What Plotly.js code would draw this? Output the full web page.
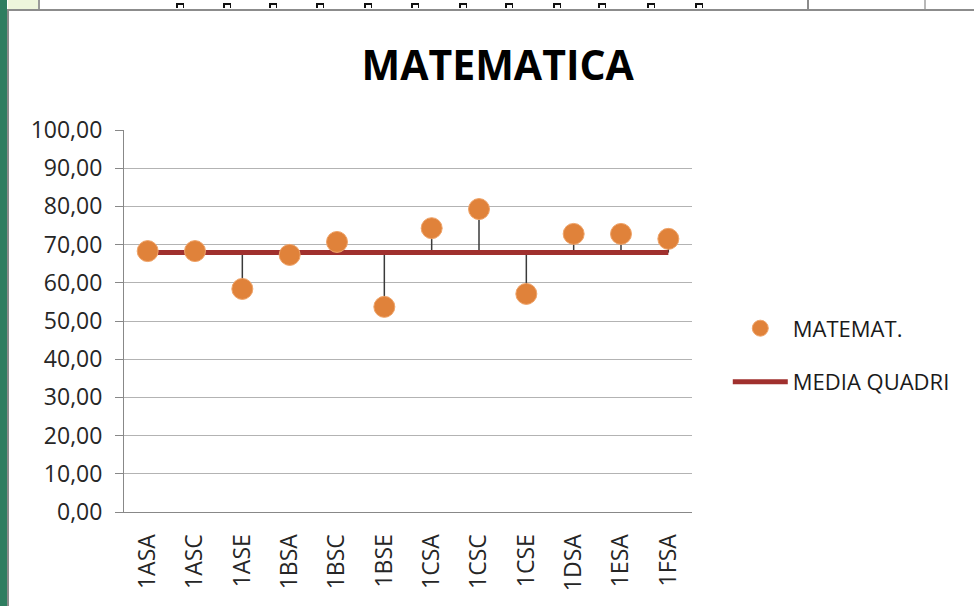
<!DOCTYPE html>
<html>
<head>
<meta charset="utf-8">
<script src="https://cdn.plot.ly/plotly-3.0.1.min.js"></script>
<style>
  html, body { margin: 0; padding: 0; background: #fff; }
  #wrap { position: relative; width: 974px; height: 606px; overflow: hidden; }
  #chart { position: absolute; left: 0; top: 0; width: 974px; height: 606px; }
  .deco { position: absolute; pointer-events: none; }
  .glyph { position: absolute; top: 3px; width: 8px; height: 5px; box-sizing: border-box;
           border-top: 2px solid #111; border-left: 2px solid #111; border-right: 1px solid #111; }
</style>
</head>
<body>
<div id="wrap">
  <div id="chart"></div>
  <!-- spreadsheet chrome around the chart -->
  <div class="deco" style="left:0;top:0;width:974px;height:9px;background:#fff;overflow:hidden;" id="strip"></div>
  <div class="deco" style="left:8px;top:0;width:30px;height:9px;background:#EEF5DC;"></div>
  <div class="deco" style="left:38px;top:0;width:2px;height:9px;background:#9a9a9a;"></div>
  <div class="deco" style="left:807px;top:0;width:2px;height:9px;background:#8c8c8c;"></div>
  <div class="deco" style="left:924px;top:0;width:2px;height:9px;background:#b8b8b8;"></div>
  <div class="deco" style="left:0;top:9px;width:974px;height:2px;background:#8c8c8c;"></div>
  <div class="deco" style="left:0;top:0;width:7px;height:606px;background:#2E7D60;"></div>
  <div class="deco" style="left:7px;top:10px;width:2px;height:596px;background:#8c8c8c;"></div>
</div>
<script>
// ---- data ----
const classi = ['1ASA','1ASC','1ASE','1BSA','1BSC','1BSE','1CSA','1CSC','1CSE','1DSA','1ESA','1FSA'];
const matemat = [68.3, 68.3, 58.4, 67.3, 70.7, 53.7, 74.3, 79.3, 57.1, 72.8, 72.8, 71.5];
const mediaQuadri = [67.9, 67.9, 67.9, 67.9, 67.9, 67.9, 67.9, 67.9, 67.9, 67.9, 67.9, 67.9];
const yTickVals = [0,10,20,30,40,50,60,70,80,90,100];
const chartTitle = 'MATEMATICA';
const nameMatemat = 'MATEMAT.';
const nameMedia = 'MEDIA QUADRI';

// top-strip decoration (edges of the spreadsheet cells above the chart)
const strip = document.getElementById('strip');
[180,227,273,320,368,415,463,509,557,602,651,699].forEach(function(x){
  const s = document.createElement('div');
  s.className = 'glyph'; s.style.left = (x-4) + 'px';
  strip.appendChild(s);
});

// drop (high-low) lines from the average to each value
const dropX = [], dropY = [];
classi.forEach(function(c, i){
  dropX.push(c, c, null);
  dropY.push(mediaQuadri[i], matemat[i], null);
});

const FONT = '"Open Sans", "Noto Sans", sans-serif';

const traces = [
  { x: dropX, y: dropY, type: 'scatter', mode: 'lines',
    line: { color: '#3a3a3a', width: 1.5 }, showlegend: false, hoverinfo: 'skip' },
  { x: classi, y: mediaQuadri, type: 'scatter', mode: 'lines', name: nameMedia,
    line: { color: '#A0302E', width: 5 }, legendrank: 2, legendgroup: 'b' },
  { x: classi, y: matemat, type: 'scatter', mode: 'markers', name: nameMatemat,
    marker: { color: '#E0823A', size: 21, line: { color: '#EFA46A', width: 1 } },
    legendrank: 1, legendgroup: 'a' }
];

const layout = {
  width: 974, height: 606,
  margin: { l: 124, r: 282, t: 130, b: 94, pad: 0 },
  paper_bgcolor: '#ffffff', plot_bgcolor: '#ffffff',
  separators: ',.',
  font: { family: FONT, color: '#262626', size: 23 },
  title: { text: chartTitle, font: { family: FONT, size: 41, color: '#000000', weight: 'bold' },
           xref: 'container', x: 0.511, xanchor: 'center', yref: 'container', y: 0.891, yanchor: 'middle' },
  xaxis: { type: 'category', categoryorder: 'array', categoryarray: classi,
           range: [-0.5, 11.5], showgrid: false, zeroline: false,
           showline: true, linecolor: '#888888', linewidth: 1,
           ticks: '', tickangle: -90, tickfont: { family: FONT, size: 23, color: '#262626' },
           ticklabelstandoff: 12, fixedrange: true },
  yaxis: { range: [0, 100], tickvals: yTickVals, tickformat: '.2f',
           showgrid: true, gridcolor: '#B3B3B3', gridwidth: 1, zeroline: false,
           showline: true, linecolor: '#888888', linewidth: 1,
           ticks: 'outside', ticklen: 8, tickcolor: '#888888', tickwidth: 1,
           tickfont: { family: FONT, size: 23, color: '#262626' },
           ticklabelstandoff: 8, fixedrange: true },
  showlegend: true,
  legend: { x: 1.063, xanchor: 'left', y: 0.41, yanchor: 'middle',
            traceorder: 'grouped', tracegroupgap: 22, itemwidth: 55,
            font: { family: FONT, size: 22, color: '#1a1a1a' },
            bgcolor: 'rgba(0,0,0,0)', borderwidth: 0 }
};

Plotly.newPlot('chart', traces, layout, { displayModeBar: false, staticPlot: true });
</script>
</body>
</html>
